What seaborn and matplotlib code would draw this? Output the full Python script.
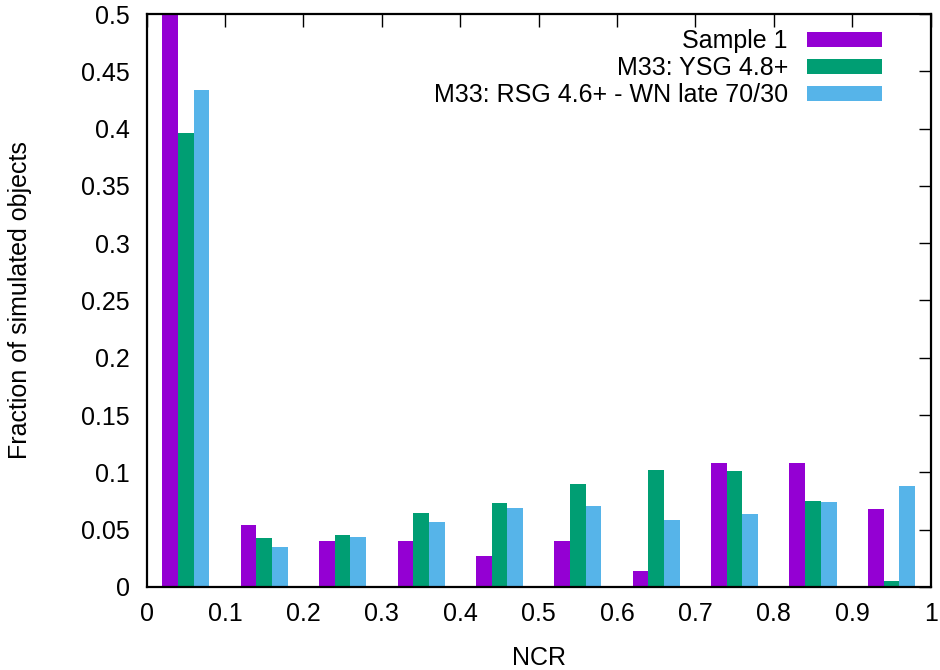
import numpy as np
import pandas as pd
import matplotlib
matplotlib.use("Agg")
import matplotlib.pyplot as plt
import seaborn as sns
from matplotlib.patches import Patch

bin_centers = [0.05, 0.15, 0.25, 0.35, 0.45, 0.55, 0.65, 0.75, 0.85, 0.95]
series_names = ["Sample 1", "M33: YSG 4.8+", "M33: RSG 4.6+ - WN late 70/30"]
sample1 = [0.500, 0.0541, 0.0405, 0.0405, 0.0270, 0.0405, 0.0135, 0.1081, 0.1081, 0.0676]
ysg = [0.396, 0.0428, 0.0456, 0.0646, 0.0730, 0.0901, 0.1024, 0.1015, 0.0748, 0.0048]
rsg_wn = [0.434, 0.0348, 0.0440, 0.0566, 0.0690, 0.0710, 0.0588, 0.0636, 0.0738, 0.0880]
colors = ["#9400D3", "#009E73", "#56B4E9"]
xticks = [0, 0.1, 0.2, 0.3, 0.4, 0.5, 0.6, 0.7, 0.8, 0.9, 1]
xtick_labels = ["0", "0.1", "0.2", "0.3", "0.4", "0.5", "0.6", "0.7", "0.8", "0.9", "1"]
yticks = [0, 0.05, 0.1, 0.15, 0.2, 0.25, 0.3, 0.35, 0.4, 0.45, 0.5]
ytick_labels = ["0", "0.05", "0.1", "0.15", "0.2", "0.25", "0.3", "0.35", "0.4", "0.45", "0.5"]

rows = []
for name, vals in zip(series_names, [sample1, ysg, rsg_wn]):
    for x, v in zip(bin_centers, vals):
        rows.append({"NCR": x, "frac": v, "series": name})
df = pd.DataFrame(rows)

sns.set_theme(style="white")
plt.rcParams["font.family"] = ["Liberation Sans", "DejaVu Sans"]
plt.rcParams["text.color"] = "black"
plt.rcParams["axes.labelcolor"] = "black"

fig = plt.figure(figsize=(9.4, 6.7), dpi=100)
ax = fig.add_axes([0.156, 0.124, 0.834, 0.855])

sns.barplot(data=df, x="NCR", y="frac", hue="series", hue_order=series_names,
            palette=colors, native_scale=True, width=0.6, gap=0, linewidth=0,
            saturation=1, errorbar=None, ax=ax, legend=False)

ax.set_xlim(0, 1)
ax.set_ylim(0, 0.5)
ax.set_xticks(xticks)
ax.set_xticklabels(xtick_labels)
ax.set_yticks(yticks)
ax.set_yticklabels(ytick_labels)
ax.tick_params(direction="in", length=9, width=1, top=True, right=True,
               labelsize=18, colors="black", labelcolor="black")
ax.tick_params(axis="y", pad=12)
ax.tick_params(axis="x", pad=11)
for sp in ax.spines.values():
    sp.set_visible(True)
    sp.set_color("black")
    sp.set_linewidth(1.6)
ax.set_xlabel("NCR", fontsize=18, color="black")
ax.set_ylabel("Fraction of simulated objects", fontsize=18, color="black")
ax.xaxis.set_label_coords(0.5, -0.104)
ax.yaxis.set_label_coords(-0.146, 0.5)

handles = [Patch(facecolor=c, edgecolor="none") for c in colors]
ax.legend(handles, series_names, loc="upper right", frameon=False, markerfirst=False,
          fontsize=18, handlelength=3.0, handleheight=0.5, handletextpad=0.75,
          labelspacing=0.12, borderpad=0, borderaxespad=0,
          bbox_to_anchor=(0.938, 0.956), bbox_transform=fig.transFigure)

fig.savefig("out.png", dpi=100)
